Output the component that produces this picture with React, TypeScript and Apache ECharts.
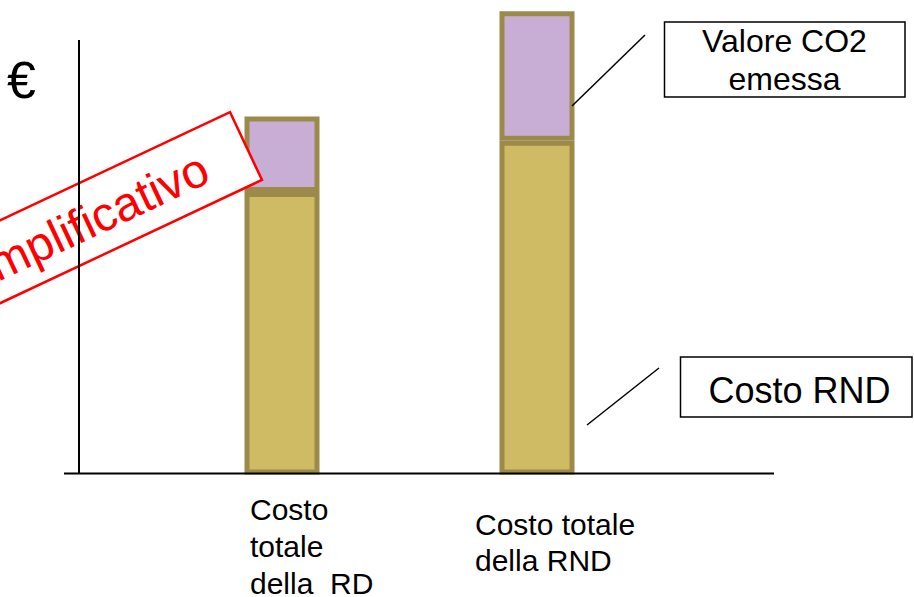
import React, { useEffect, useRef } from "react";
import * as echarts from "echarts";

const categories = ["Costo\ntotale\ndella  RD", "Costo totale\ndella RND"];
const costoRND = [65.0, 76.8];
const valoreCO2 = [17.4, 29.8];
const calloutLabels = ["Valore CO2\nemessa", "Costo RND"];
const yAxisLabel = "€";
const stampText = "Esempio semplificativo";

const FONT = "Liberation Sans, Arial, Helvetica, sans-serif";

export default function App() {
  const ref = useRef<HTMLDivElement>(null);

  useEffect(() => {
    document.body.style.margin = "0";
    if (!ref.current) return;
    const chart = echarts.init(ref.current, null, { renderer: "svg" });

    const option: any = {
      animation: false,
      backgroundColor: "#ffffff",
      grid: { left: 154.5, width: 510, top: 40, height: 434.5 },
      xAxis: { type: "category", data: categories, show: false },
      yAxis: { type: "value", min: 0, max: 100, show: false },
      series: [
        {
          name: "Costo RND",
          type: "bar",
          stack: "tot",
          data: costoRND,
          barWidth: 75,
          clip: false,
          z: 1,
          itemStyle: { color: "#CFBB63", borderColor: "#9C8A4B", borderWidth: 5 },
        },
        {
          name: "Valore CO2 emessa",
          type: "bar",
          stack: "tot",
          data: valoreCO2,
          barWidth: 75,
          clip: false,
          z: 1,
          itemStyle: { color: "#C8AED4", borderColor: "#9C8A4B", borderWidth: 5 },
        },
      ],
      graphic: [
        // stamp
        {
          type: "group",
          x: 246,
          y: 146,
          rotation: 0.44,
          zlevel: 1,
          z: 50,
          children: [
            {
              type: "rect",
              zlevel: 1,
              z: 50,
              shape: { x: -640, y: -37.5, width: 640, height: 75 },
              style: { fill: "#ffffff", stroke: "#ff0000", lineWidth: 2.5 },
            },
            {
              type: "text",
              x: -45,
              y: 1,
              zlevel: 1,
              z: 51,
              style: {
                text: stampText,
                fontSize: 48,
                fontFamily: FONT,
                fill: "#ff0000",
                align: "right",
                verticalAlign: "middle",
              },
            },
          ],
        },
        // axes
        {
          type: "line",
          zlevel: 1,
          z: 100,
          shape: { x1: 79, y1: 40, x2: 79, y2: 474 },
          style: { stroke: "#000", lineWidth: 2 },
        },
        {
          type: "line",
          zlevel: 1,
          z: 100,
          shape: { x1: 64, y1: 473.5, x2: 774, y2: 473.5 },
          style: { stroke: "#000", lineWidth: 2 },
        },
        {
          type: "text",
          x: 7,
          y: 80,
          z: 100,
          style: {
            text: yAxisLabel,
            fontSize: 52,
            fontFamily: FONT,
            fill: "#000",
            align: "left",
            verticalAlign: "middle",
          },
        },
        // category labels
        {
          type: "text",
          x: 250,
          y: 491,
          z: 100,
          style: {
            text: categories[0],
            fontSize: 30,
            lineHeight: 37,
            fontFamily: FONT,
            fill: "#000",
            align: "left",
            verticalAlign: "top",
          },
        },
        {
          type: "text",
          x: 475,
          y: 507,
          z: 100,
          style: {
            text: categories[1],
            fontSize: 30,
            lineHeight: 35.5,
            fontFamily: FONT,
            fill: "#000",
            align: "left",
            verticalAlign: "top",
          },
        },
        // callout boxes
        {
          type: "rect",
          z: 100,
          shape: { x: 664.5, y: 22, width: 240.5, height: 75 },
          style: { fill: "#fff", stroke: "#000", lineWidth: 1.5 },
        },
        {
          type: "text",
          x: 784.5,
          y: 60,
          z: 101,
          style: {
            text: calloutLabels[0],
            fontSize: 32,
            lineHeight: 38,
            fontFamily: FONT,
            fill: "#000",
            align: "center",
            verticalAlign: "middle",
          },
        },
        {
          type: "line",
          zlevel: 1,
          z: 100,
          shape: { x1: 572, y1: 106, x2: 645, y2: 35 },
          style: { stroke: "#000", lineWidth: 1.5 },
        },
        {
          type: "rect",
          z: 100,
          shape: { x: 680.5, y: 357, width: 231.5, height: 60 },
          style: { fill: "#fff", stroke: "#000", lineWidth: 1.5 },
        },
        {
          type: "text",
          x: 799.5,
          y: 390,
          z: 101,
          style: {
            text: calloutLabels[1],
            fontSize: 36,
            fontFamily: FONT,
            fill: "#000",
            align: "center",
            verticalAlign: "middle",
          },
        },
        {
          type: "line",
          zlevel: 1,
          z: 100,
          shape: { x1: 587, y1: 425, x2: 659, y2: 368 },
          style: { stroke: "#000", lineWidth: 1.5 },
        },
      ],
    };

    chart.setOption(option);
    return () => chart.dispose();
  }, []);

  return (
    <div
      ref={ref}
      style={{ position: "fixed", left: 0, top: 0, width: 914, height: 597 }}
    />
  );
}
